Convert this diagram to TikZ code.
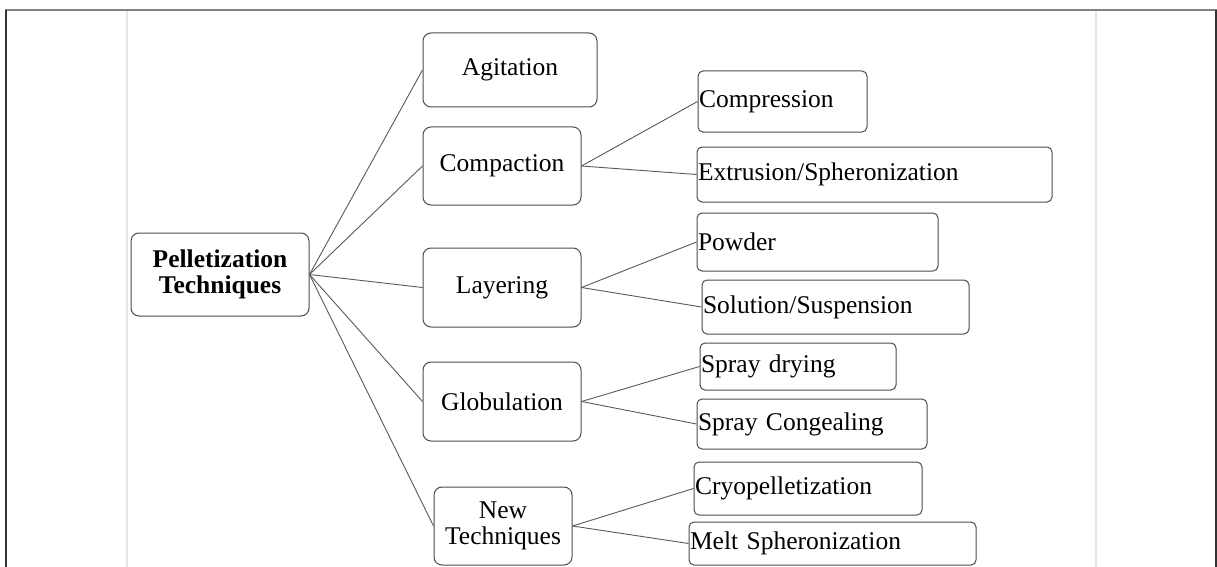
\documentclass[tikz,border=0pt]{standalone}
\usepackage{fontspec}
\setmainfont{Liberation Serif}
\begin{document}
\begin{tikzpicture}[x=1pt, y=-1pt,
  box/.style={draw=black!70, line width=1pt, rounded corners=8pt, inner sep=0pt, align=center, font=\fontsize{25.5}{26}\selectfont},
  leaf/.style={draw=black!70, line width=1pt, rounded corners=5pt, inner xsep=1pt, inner ysep=0pt, align=left, font=\fontsize{25.5}{26}\selectfont},
  link/.style={draw=black!65, line width=0.9pt}]
\useasboundingbox (0,0) rectangle (1217,567);
% Rahmen
\draw[black!10, line width=1.2pt] (127,11) -- (127,567);
\draw[black!10, line width=1.2pt] (1096,11) -- (1096,567);
\draw[black!50, line width=2pt] (5,10) -- (1217,10);
\draw[black!80, line width=1.5pt] (6,10) -- (6,567);
\draw[black!80, line width=1.5pt] (1216,10) -- (1216,567);
% Wurzel
\node[box, minimum width=178pt, minimum height=83pt, font=\fontsize{25.5}{26}\selectfont\bfseries] (root) at (220,274.5) {Pelletization\\Techniques};
% Hauptzweige
\node[box, minimum width=174pt, minimum height=74pt] (agit) at (510,70) {Agitation};
\node[box, minimum width=158pt, minimum height=78pt] (compa) at (502,166) {Compaction};
\node[box, minimum width=158pt, minimum height=79pt] (layer) at (502,287.5) {Layering};
\node[box, minimum width=158pt, minimum height=79pt] (glob) at (502,401.5) {Globulation};
\node[box, minimum width=138pt, minimum height=78pt] (newt) at (503,526) {New\\Techniques};
% Unterzweige
\node[leaf, text width=167pt, minimum height=61pt] (compr) at (782.5,101.5) {Compression};
\node[leaf, text width=353pt, minimum height=55pt] (extru) at (874.5,174.5) {Extrusion/Spheronization};
\node[leaf, text width=239pt, minimum height=58pt] (powd) at (817.5,242) {Powder};
\node[leaf, text width=265pt, minimum height=54pt] (solu) at (835.5,307) {Solution/Suspension};
\node[leaf, text width=194pt, minimum height=47pt] (sdry) at (798,366.5) {Spray drying};
\node[leaf, text width=228pt, minimum height=50pt] (scong) at (812,424) {Spray Congealing};
\node[leaf, text width=226pt, minimum height=53pt] (cryo) at (808,488.5) {Cryopelletization};
\node[leaf, text width=285pt, minimum height=43pt] (melt) at (832.5,543.5) {Melt Spheronization};
% Verbindungen
\foreach \b in {agit,compa,layer,glob,newt}
  \draw[link] (root.east) -- (\b.west);
\draw[link] (compa.east) -- (compr.west);
\draw[link] (compa.east) -- (extru.west);
\draw[link] (layer.east) -- (powd.west);
\draw[link] (layer.east) -- (solu.west);
\draw[link] (glob.east) -- (sdry.west);
\draw[link] (glob.east) -- (scong.west);
\draw[link] (newt.east) -- (cryo.west);
\draw[link] (newt.east) -- (melt.west);
\end{tikzpicture}
\end{document}
